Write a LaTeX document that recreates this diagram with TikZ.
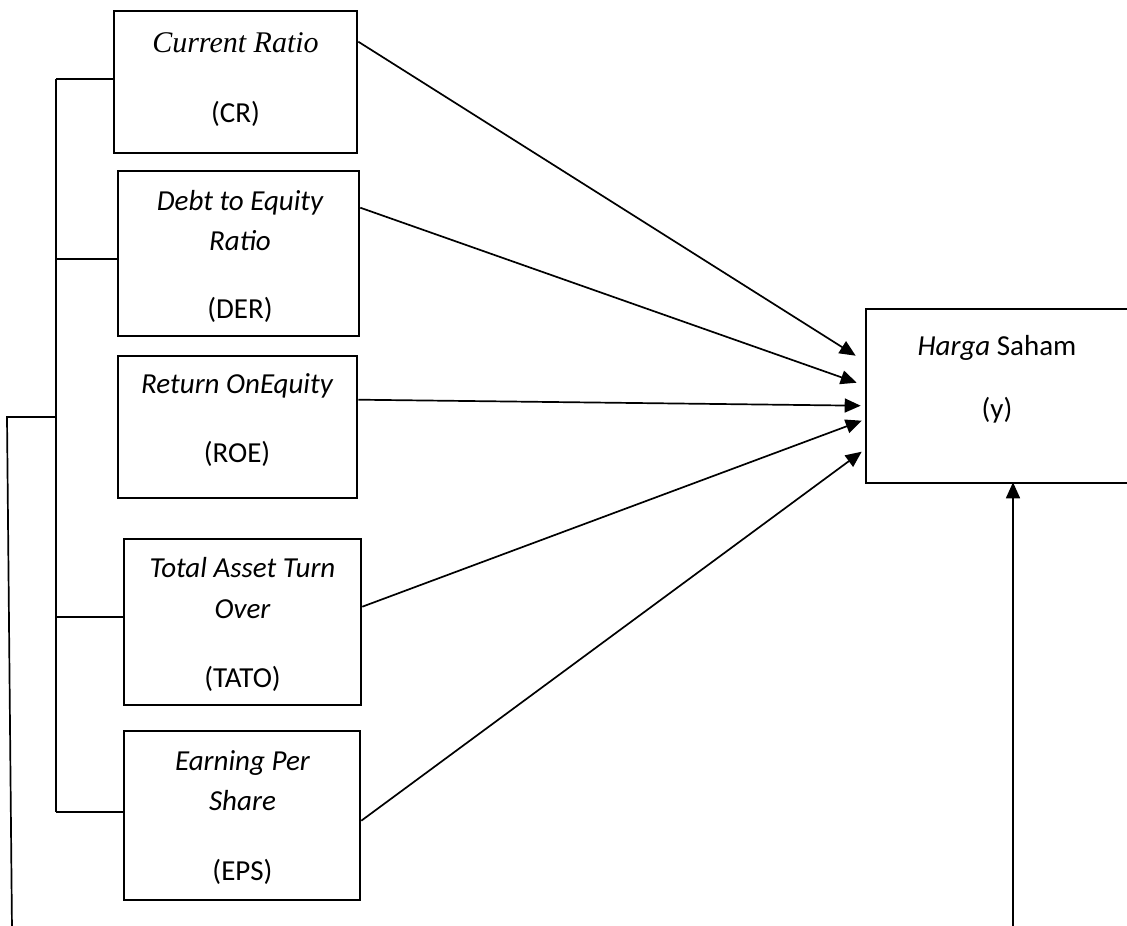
\documentclass[tikz,border=0pt]{standalone}
\usepackage{fontspec}
\setmainfont{Carlito}
\newfontfamily\tnr{Liberation Serif}
\usetikzlibrary{arrows.meta,calc}
\tikzset{
  box/.style={draw, line width=2.6pt, rectangle, inner sep=0pt},
  txt/.style={inner sep=0pt, anchor=base, font=\fontsize{29}{34}\selectfont},
  conn/.style={line width=1.7pt},
  arr/.style={line width=1.7pt, -{Triangle[length=16pt,width=14pt]}},
}
\begin{document}
\begin{tikzpicture}[x=1pt,y=-1pt]
\useasboundingbox (0,0) rectangle (1127,926);
\clip (0,0) rectangle (1127,926);
% boxes
\node[box, minimum width=243pt, minimum height=142pt] (cr)   at (235.5,82) {};
\node[box, minimum width=241pt, minimum height=165pt] (der)  at (238.5,253.5) {};
\node[box, minimum width=239pt, minimum height=142pt] (roe)  at (237.5,427) {};
\node[box, minimum width=237pt, minimum height=166pt] (tato) at (242.5,622) {};
\node[box, minimum width=236pt, minimum height=169pt] (eps)  at (242,815.5) {};
\node[box, minimum width=262pt, minimum height=174pt] (hy)   at (997,396) {};
% texts
\node[txt, font=\fontsize{30}{34}\tnr\itshape] (t1) at (235.5,52) {Current Ratio};
\node[txt] (t2) at (235.5,122) {(CR)};
\node[txt] (t3) at (240,210) {\itshape Debt to Equity};
\node[txt] (t4) at (240,250) {\itshape Ratio};
\node[txt] (t5) at (240,318) {(DER)};
\node[txt] (t6) at (237,393) {\itshape Return OnEquity};
\node[txt] (t7) at (237,462) {(ROE)};
\node[txt] (t8) at (242.5,577) {\itshape Total Asset Turn};
\node[txt] (t9) at (242.5,618) {\itshape Over};
\node[txt] (t10) at (242.5,687) {(TATO)};
\node[txt] (t11) at (242.5,770) {\itshape Earning Per};
\node[txt] (t12) at (242.5,810) {\itshape Share};
\node[txt] (t13) at (242.5,880) {(EPS)};
\node[txt] (t14) at (997,355) {\itshape Harga\upshape{} Saham};
\node[txt] (t15) at (997,418) {(y)};
% arrows to Harga Saham
\draw[arr] ([yshift=-32pt]cr.north east)   -- ([xshift=-9pt,yshift=-48pt]hy.north west);
\draw[arr] ([yshift=-38pt]der.north east)  -- ([xshift=-8pt,yshift=-75pt]hy.north west);
\draw[arr] ([yshift=-45pt]roe.north east)  -- ([xshift=-4pt,yshift=-98pt]hy.north west);
\draw[arr] ([yshift=-69pt]tato.north east) -- ([xshift=-3pt,yshift=-113pt]hy.north west);
\draw[arr] ([yshift=-91pt]eps.north east)  -- ([xshift=-3pt,yshift=-144pt]hy.north west);
% bracket
\coordinate (b1) at (56,79);
\coordinate (b2) at (56,259);
\coordinate (b3) at (56,417);
\coordinate (b4) at (56,617);
\coordinate (b5) at (56,812);
\coordinate (l1) at (7,417);
\coordinate (l2) at (12,930);
\coordinate (r1) at (1013,930);
\draw[conn] (b1) -- (b5);
\draw[conn] (b1) -- (b1 -| cr.west);
\draw[conn] (b2) -- (b2 -| der.west);
\draw[conn] (b4) -- (b4 -| tato.west);
\draw[conn] (b5) -- (b5 -| eps.west);
\draw[conn] (b3) -- (l1) -- (l2);
\draw[arr] (r1) -- ([yshift=2pt]r1 |- hy.south);
\end{tikzpicture}
\end{document}
